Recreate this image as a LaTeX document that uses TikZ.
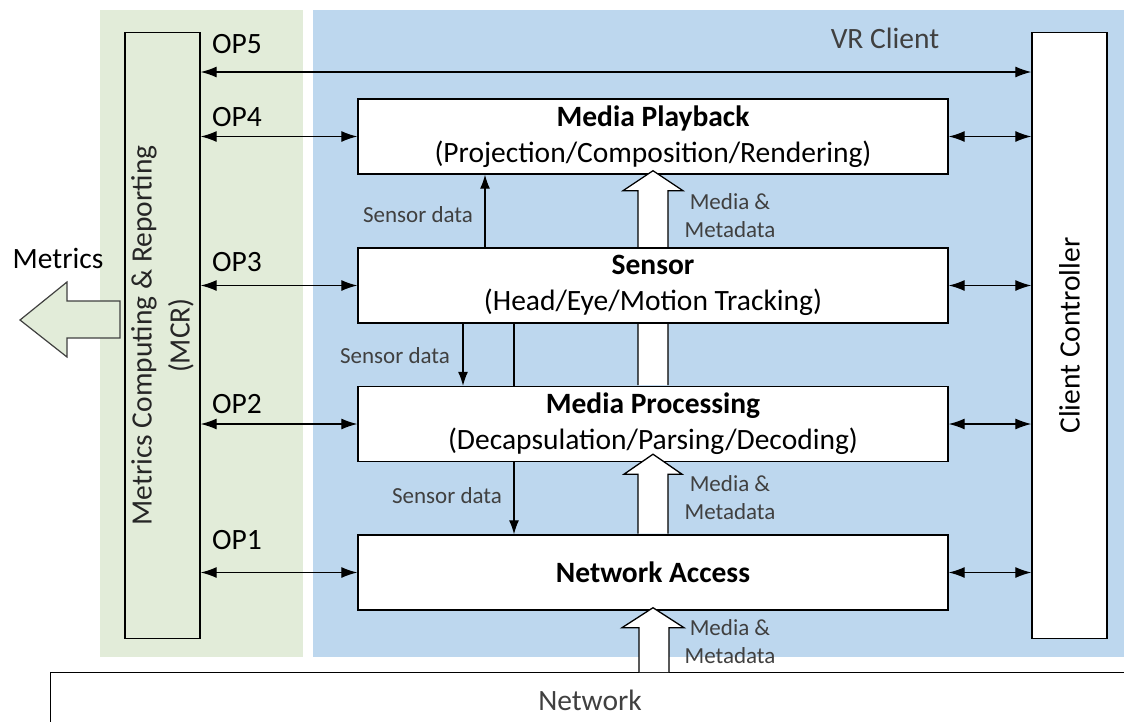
\documentclass[tikz,border=0pt]{standalone}
\usepackage{fontspec}
\setmainfont{Carlito}
\usetikzlibrary{arrows.meta}
\definecolor{panelgreen}{RGB}{226,236,217}
\definecolor{panelblue}{RGB}{189,215,238}
\definecolor{labelgray}{RGB}{64,64,64}

\begin{document}
\begin{tikzpicture}[x=1pt, y=-1pt]
      \tikzstyle{STY1} = [draw, line width=1.4pt, fill=white, rectangle, minimum height=75pt, minimum width=590pt, inner sep=0pt, align=center, font=\fontsize{29.5}{36}\selectfont]
      \tikzstyle{STY2} = [<->, line width=1.2pt, >={Latex[length=16pt,width=11pt]}]
      \tikzstyle{STY3} = [->, line width=1.2pt, >={Latex[length=14pt,width=10pt]}]
      \tikzstyle{STY4} = [draw, line width=1.3pt, fill=white, line join=miter]
      \tikzstyle{STY5} = [font=\fontsize{23}{28}\selectfont, text=labelgray, align=center]
      \tikzstyle{STY6} = [font=\fontsize{29.5}{38}\selectfont, align=center]

      \useasboundingbox (0,0) rectangle (1124,721);
      \clip (0,0) rectangle (1124,721);

      %%%%% PANELS

      \node[fill=panelgreen, minimum width=203pt, minimum height=647pt, inner sep=0pt](p1) at (201.5, 333.5) {};
      \node[fill=panelblue, minimum width=811pt, minimum height=647pt, inner sep=0pt](p2) at (718.5, 333.5) {};
      \node[STY6, text=labelgray](p3) at (885, 38) {VR Client};

      %%%%% VERTEX

      \node[STY1, fill=none, minimum height=606pt, minimum width=75pt](v1) at (162.5, 335.5) {};
      \node[STY6, rotate=90, text=black!85](v1t) at (v1.center) {Metrics Computing \& Reporting\\(MCR)};

      \node[STY1, minimum height=606pt, minimum width=75pt](v6) at (1069.5, 335.5) {};
      \node[STY6, rotate=90](v6t) at (v6.center) {Client Controller};

      \node[draw, line width=1.4pt, fill=white, anchor=north west, minimum width=1150pt, minimum height=120pt](v7) at (50, 672) {};
      \node[STY6, text=labelgray](v7t) at (590, 700) {Network};

      \node[STY1](v2) at (653, 136.5) {\textbf{Media Playback}\\(Projection/Composition/Rendering)};
      \node[STY1](v4) at (653, 424) {\textbf{Media Processing}\\(Decapsulation/Parsing/Decoding)};
      \node[STY1](v5) at (653, 572.5) {\textbf{Network Access}};

      \draw[STY4] ([xshift=-15pt,yshift=0.7pt]v4.north) -- ([xshift=-15pt,yshift=-16pt]v2.south) -- ([xshift=-30pt,yshift=-16pt]v2.south) -- ([yshift=4pt]v2.south) -- ([xshift=30pt,yshift=-16pt]v2.south) -- ([xshift=15pt,yshift=-16pt]v2.south) -- ([xshift=15pt,yshift=0.7pt]v4.north);

      \node[STY1](v3) at (653, 285.5) {\textbf{Sensor}\\(Head/Eye/Motion Tracking)};

      \draw[STY4] ([xshift=-15pt,yshift=0.7pt]v5.north) -- ([xshift=-15pt,yshift=-12pt]v4.south) -- ([xshift=-29pt,yshift=-12pt]v4.south) -- ([yshift=8pt]v4.south) -- ([xshift=29pt,yshift=-12pt]v4.south) -- ([xshift=15pt,yshift=-12pt]v4.south) -- ([xshift=15pt,yshift=0.7pt]v5.north);

      \coordinate (c1) at (v5.south |- v7.north);
      \draw[STY4] ([xshift=-14pt]c1) -- ([xshift=-14pt,yshift=-17pt]v5.south) -- ([xshift=-31pt,yshift=-17pt]v5.south) -- ([yshift=3pt]v5.south) -- ([xshift=31pt,yshift=-17pt]v5.south) -- ([xshift=16pt,yshift=-17pt]v5.south) -- ([xshift=16pt]c1);

      %%%%% LABELS

      \node[STY6](o5) at (237, 44) {OP5};
      \node[STY6](o4) at (237, 117) {OP4};
      \node[STY6](o3) at (237, 262) {OP3};
      \node[STY6](o2) at (237, 404) {OP2};
      \node[STY6](o1) at (237, 540) {OP1};

      \node[STY5](s1) at (418, 215) {Sensor data};
      \node[STY5](s2) at (395, 356) {Sensor data};
      \node[STY5](s3) at (447, 496) {Sensor data};

      \node[STY5](m1) at (730, 216) {Media \&\\Metadata};
      \node[STY5](m2) at (730, 498) {Media \&\\Metadata};
      \node[STY5](m3) at (730, 642) {Media \&\\Metadata};

      \node[STY6](r1) at (58, 258) {Metrics};
      \draw[fill=panelgreen, draw=black!75, line width=1.2pt, line join=miter] (120,301) -- (67,301) -- (67,282) -- (20,320) -- (67,357) -- (67,338) -- (120,338) -- cycle;

      %%%%% EDGES

      \draw[STY2]  ([yshift=263.5pt]v1.east) -- ([yshift=263.5pt]v6.west);
      \draw[STY2]  (v2.west -| v1.east) -- (v2.west);
      \draw[STY2]  (v3.west -| v1.east) -- (v3.west);
      \draw[STY2]  (v4.west -| v1.east) -- (v4.west);
      \draw[STY2]  (v5.west -| v1.east) -- (v5.west);

      \draw[STY2]  (v2.east) -- (v2.east -| v6.west);
      \draw[STY2]  (v3.east) -- (v3.east -| v6.west);
      \draw[STY2]  (v4.east) -- (v4.east -| v6.west);
      \draw[STY2]  (v5.east) -- (v5.east -| v6.west);

      \draw[STY3]  ([xshift=-168pt]v3.north) -- ([xshift=-168pt]v2.south);
      \draw[STY3]  ([xshift=-190pt]v3.south) -- ([xshift=-190pt]v4.north);
      \draw[line width=1.2pt]  ([xshift=-139pt]v3.south) -- ([xshift=-139pt]v4.north);
      \draw[STY3]  ([xshift=-139pt]v4.south) -- ([xshift=-139pt]v5.north);
\end{tikzpicture}
\end{document}
